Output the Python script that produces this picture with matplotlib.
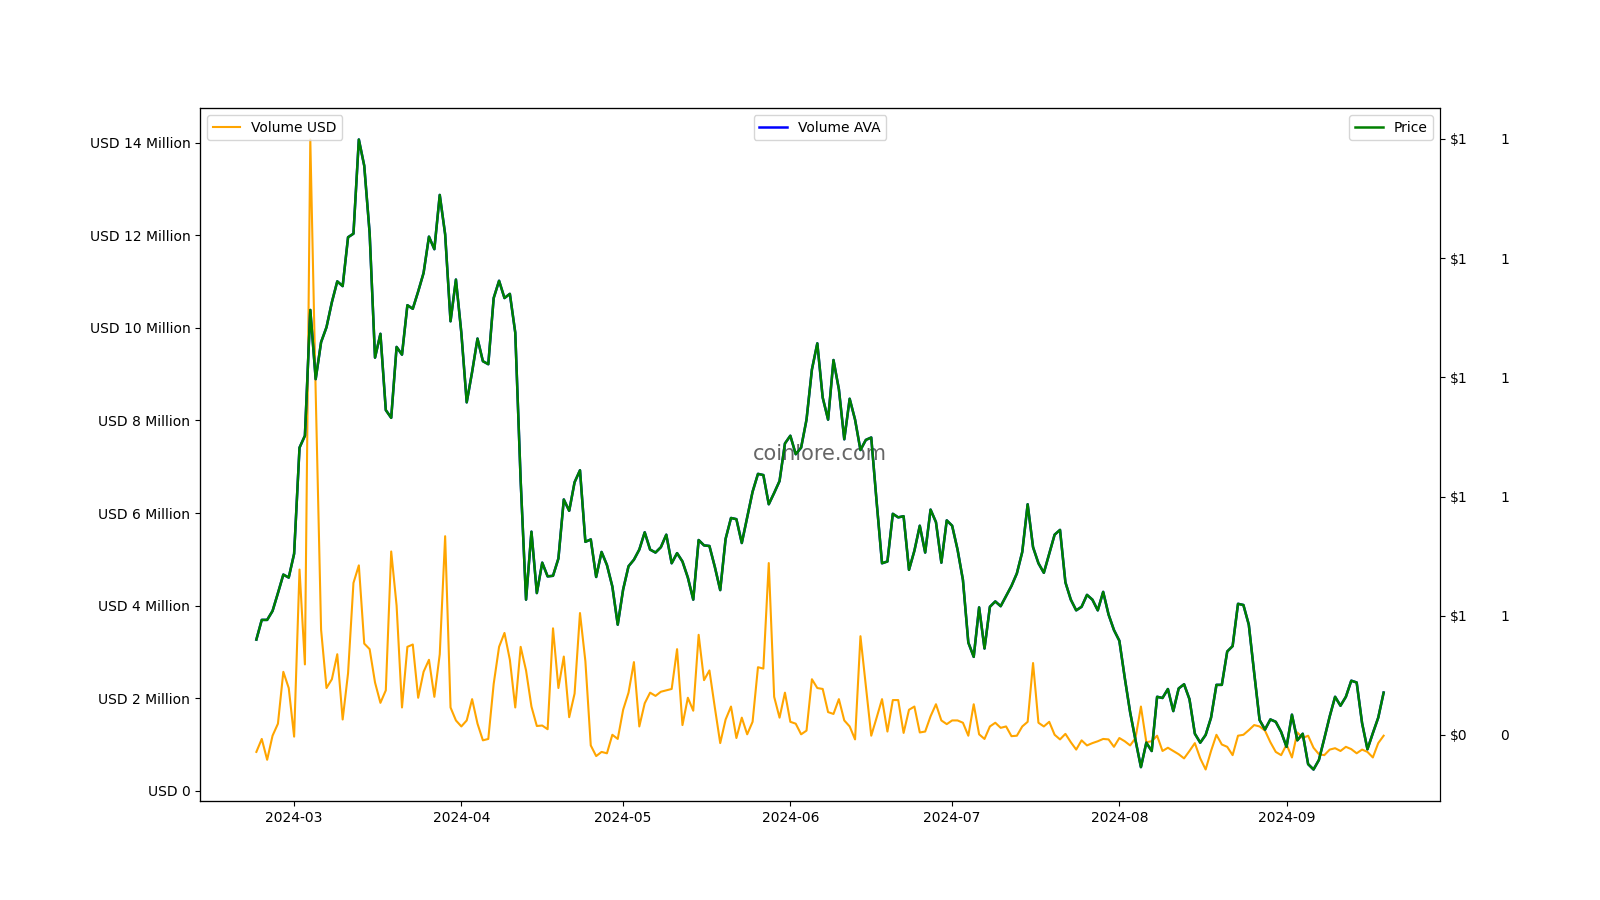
import numpy as np
import pandas as pd
import matplotlib
matplotlib.use("Agg")
import matplotlib.pyplot as plt
from matplotlib.ticker import FuncFormatter

# -----------------------------
# Data (daily, 2024-02-23 .. 2024-09-19)
# -----------------------------
dates = pd.date_range("2024-02-23", "2024-09-19", freq="D")

volume_usd_m = [
    0.84, 1.12, 0.67, 1.19, 1.45, 2.57, 2.22, 1.17, 4.78, 2.73,
    14.07, 8.6, 3.48, 2.22, 2.41, 2.95, 1.54, 2.54, 4.49, 4.87,
    3.18, 3.06, 2.34, 1.90, 2.17, 5.17, 4.00, 1.80, 3.11, 3.16,
    2.01, 2.57, 2.83, 2.03, 2.95, 5.50, 1.80, 1.52, 1.39, 1.52,
    1.98, 1.45, 1.09, 1.12, 2.31, 3.11, 3.41, 2.83, 1.80, 3.11,
    2.60, 1.82, 1.40, 1.41, 1.33, 3.51, 2.22, 2.90, 1.59, 2.10,
    3.84, 2.80, 0.98, 0.75, 0.84, 0.81, 1.21, 1.12, 1.75, 2.12,
    2.78, 1.39, 1.89, 2.12, 2.05, 2.14, 2.17, 2.20, 3.06, 1.42,
    2.01, 1.73, 3.37, 2.39, 2.60, 1.80, 1.03, 1.54, 1.82, 1.14,
    1.58, 1.22, 1.49, 2.67, 2.64, 4.92, 2.03, 1.58, 2.12, 1.49,
    1.45, 1.22, 1.30, 2.41, 2.22, 2.20, 1.70, 1.66, 1.98, 1.52,
    1.39, 1.11, 3.34, 2.26, 1.19, 1.58, 1.98, 1.28, 1.96, 1.96,
    1.25, 1.75, 1.82, 1.26, 1.28, 1.61, 1.87, 1.52, 1.44, 1.52,
    1.52, 1.47, 1.19, 1.87, 1.22, 1.12, 1.39, 1.47, 1.36, 1.39,
    1.18, 1.19, 1.39, 1.49, 2.76, 1.47, 1.39, 1.49, 1.21, 1.11,
    1.23, 1.05, 0.89, 1.09, 0.98, 1.03, 1.07, 1.12, 1.11, 0.95,
    1.14, 1.07, 0.98, 1.14, 1.82, 1.05, 1.07, 1.19, 0.86, 0.93,
    0.86, 0.79, 0.70, 0.86, 1.03, 0.70, 0.46, 0.86, 1.21, 1.00,
    0.95, 0.77, 1.19, 1.21, 1.31, 1.42, 1.39, 1.30, 1.05, 0.84,
    0.77, 1.00, 0.72, 1.26, 1.14, 1.19, 0.93, 0.79, 0.77, 0.89,
    0.92, 0.86, 0.95, 0.90, 0.81, 0.89, 0.84, 0.72, 1.03, 1.19,
]

price = [
    0.560, 0.593, 0.593, 0.608, 0.638, 0.669, 0.664, 0.704, 0.882, 0.902,
    1.113, 0.997, 1.059, 1.084, 1.126, 1.161, 1.153, 1.235, 1.241, 1.399,
    1.355, 1.242, 1.033, 1.073, 0.945, 0.932, 1.051, 1.038, 1.121, 1.115,
    1.144, 1.175, 1.236, 1.215, 1.306, 1.240, 1.094, 1.164, 1.075, 0.958,
    1.009, 1.065, 1.027, 1.022, 1.133, 1.162, 1.133, 1.140, 1.075, 0.827,
    0.627, 0.741, 0.638, 0.689, 0.666, 0.667, 0.696, 0.795, 0.776, 0.824,
    0.844, 0.724, 0.728, 0.665, 0.707, 0.685, 0.649, 0.585, 0.644, 0.683,
    0.694, 0.711, 0.740, 0.711, 0.706, 0.715, 0.736, 0.688, 0.705, 0.691,
    0.664, 0.627, 0.727, 0.718, 0.717, 0.682, 0.643, 0.729, 0.764, 0.762,
    0.722, 0.765, 0.808, 0.838, 0.836, 0.787, 0.806, 0.826, 0.889, 0.902,
    0.871, 0.882, 0.929, 1.013, 1.057, 0.966, 0.929, 1.029, 0.980, 0.896,
    0.964, 0.929, 0.878, 0.895, 0.899, 0.791, 0.688, 0.691, 0.771, 0.765,
    0.767, 0.677, 0.709, 0.751, 0.706, 0.778, 0.757, 0.689, 0.760, 0.751,
    0.711, 0.660, 0.555, 0.531, 0.614, 0.545, 0.615, 0.624, 0.616, 0.633,
    0.650, 0.671, 0.707, 0.787, 0.715, 0.688, 0.672, 0.704, 0.736, 0.744,
    0.656, 0.627, 0.609, 0.615, 0.635, 0.627, 0.609, 0.640, 0.602, 0.576,
    0.558, 0.496, 0.438, 0.391, 0.346, 0.387, 0.373, 0.464, 0.462, 0.477,
    0.440, 0.478, 0.485, 0.460, 0.402, 0.387, 0.400, 0.429, 0.484, 0.484,
    0.540, 0.549, 0.620, 0.618, 0.585, 0.504, 0.425, 0.409, 0.426, 0.422,
    0.405, 0.380, 0.434, 0.391, 0.402, 0.351, 0.342, 0.358, 0.394, 0.431,
    0.464, 0.449, 0.464, 0.491, 0.488, 0.420, 0.376, 0.403, 0.429, 0.471,
]

# the AVA volume line sits exactly under the price line in the source chart
volume_ava = list(price)

volume_usd = np.array(volume_usd_m) * 1e6

# -----------------------------
# Plot
# -----------------------------
fig, ax = plt.subplots(figsize=(16, 9), dpi=100)

ax.plot(dates, volume_usd, color="orange", linewidth=1.5, label="Volume USD")
ax.yaxis.set_major_formatter(
    FuncFormatter(lambda x, pos: "USD 0" if abs(x) < 1 else f"USD {x / 1e6:.0f} Million")
)
ax.legend(loc="upper left")

# third axis (volume AVA) created first so it is drawn below the price line
ax3 = ax.twinx()
ax3.plot(dates, volume_ava, color="blue", linewidth=1.8, label="Volume AVA")
ax3.spines["right"].set_position(("outward", 40))
ax3.spines["right"].set_visible(False)
ax3.tick_params(axis="y", length=0, pad=3.5)
ax3.yaxis.set_major_formatter(FuncFormatter(lambda x, pos: f"{x:.0f}"))
ax3.legend(loc="upper center")

ax2 = ax.twinx()
ax2.plot(dates, price, color="green", linewidth=1.8, label="Price")
ax2.yaxis.set_major_formatter(FuncFormatter(lambda x, pos: f"${x:.0f}"))
ax2.legend(loc="upper right")

ax.text(0.5, 0.5, "coinlore.com", transform=ax.transAxes, ha="center", va="center",
        fontsize=15, color="#555555", alpha=0.9, zorder=10)

plt.savefig("out.png", dpi=100)
